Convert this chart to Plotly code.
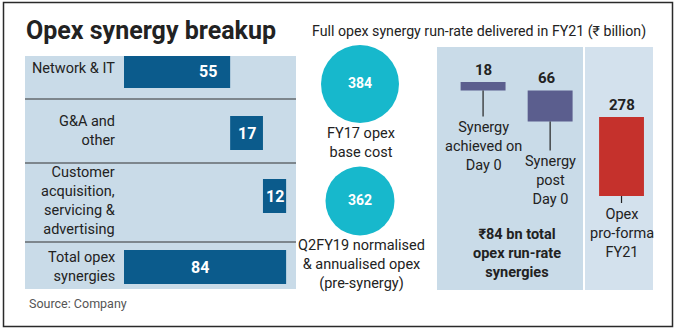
import plotly.graph_objects as go

# ---------------- data ----------------
breakup_labels = ["Network & IT", "G&A and<br>other",
                  "Customer<br>acquisition,<br>servicing &<br>advertising",
                  "Total opex<br>synergies"]
breakup_values = [55, 17, 12, 84]
breakup_is_total = [False, False, False, True]

base_cost_values = [384, 362]
base_cost_labels = ["FY17 opex<br>base cost",
                    "Q2FY19 normalised<br>& annualised opex<br>(pre-synergy)"]

synergy_labels = ["Synergy<br>achieved on<br>Day 0", "Synergy<br>post<br>Day 0"]
synergy_values = [18, 66]
proforma_label = "Opex<br>pro-forma<br>FY21"
proforma_value = 278

title_text = "Opex synergy breakup"
subtitle_text = "Full opex synergy run-rate delivered in FY21 (₹ billion)"
source_text = "Source: Company"

# ---------------- layout helpers (pixels -> paper) ----------------
W, H = 676, 331
def px(x):
    return x / W
def py(y):
    return 1 - y / H

FONT = "Roboto, 'Noto Sans', sans-serif"
TXT = "#222222"
BAR_BLUE = "#0b5b8c"
SYN = "#5b5e8e"
RED = "#c5312c"
TEAL = "#17b8cc"
BG1 = "#c9dbe8"
BG2 = "#d3e1ed"

# left waterfall geometry (style)
ROW_Y = [71, 133, 196, 267]
LABEL_DY = [-3, -2, 5, 0]
ROW_SEP = [99, 163, 242]
LEFT_SCALE = 1.93  # px per unit
LABEL_FRAC = [0.79, 0.5, 0.5, 0.47]

bases = []
run = 0
for v, tot in zip(breakup_values, breakup_is_total):
    if tot:
        bases.append(0)
    else:
        bases.append(run)
        run += v

fig = go.Figure()

fig.add_trace(go.Bar(
    x=breakup_values, base=bases, y=ROW_Y, orientation="h", width=34,
    marker=dict(color=BAR_BLUE, line=dict(width=0)),
    xaxis="x", yaxis="y", hoverinfo="skip", showlegend=False))

# synergy waterfall (from 362 downwards)
start = base_cost_values[1]
syn_bases = []
level = start
for v in synergy_values:
    level -= v
    syn_bases.append(level)
S2 = 0.47  # px per unit
fig.add_trace(go.Bar(
    x=[0, 1], y=synergy_values, base=syn_bases, width=0.67,
    marker=dict(color=SYN, line=dict(width=0)),
    xaxis="x2", yaxis="y2", hoverinfo="skip", showlegend=False))

S3 = 79 / 278
fig.add_trace(go.Bar(
    x=[0], y=[proforma_value], width=0.66,
    marker=dict(color=RED, line=dict(width=0)),
    xaxis="x3", yaxis="y3", hoverinfo="skip", showlegend=False))

# circles
CIRCLE_Y = [84, 201]
CIRCLE_SIZE = [78, 69]
fig.add_trace(go.Scatter(
    x=[360, 360], y=CIRCLE_Y, mode="markers+text", opacity=1,
    marker=dict(size=CIRCLE_SIZE, color=TEAL, opacity=1, line=dict(width=0)),
    text=["<b>%d</b>" % v for v in base_cost_values], textposition="middle center",
    textfont=dict(family=FONT, size=14, color="white"),
    xaxis="x4", yaxis="y4", hoverinfo="skip", showlegend=False))

shapes = []
# backgrounds
shapes.append(dict(type="rect", xref="paper", yref="paper", x0=px(25), x1=px(296),
                   y0=py(289), y1=py(56), fillcolor=BG1, line=dict(width=0), layer="below"))
shapes.append(dict(type="rect", xref="paper", yref="paper", x0=px(437), x1=px(583),
                   y0=py(290), y1=py(47), fillcolor=BG1, line=dict(width=0), layer="below"))
shapes.append(dict(type="rect", xref="paper", yref="paper", x0=px(585), x1=px(653),
                   y0=py(290), y1=py(47), fillcolor=BG2, line=dict(width=0), layer="below"))
for yy in ROW_SEP:
    shapes.append(dict(type="line", xref="paper", yref="paper", x0=px(25), x1=px(296),
                       y0=py(yy), y1=py(yy), line=dict(color="#333333", width=1.2)))
# outer border
shapes.append(dict(type="rect", xref="paper", yref="paper", x0=px(3.5), x1=px(672.5),
                   y0=py(326.5), y1=py(2.5), line=dict(color="#2a2a2a", width=1.5)))

annotations = []
# title etc.
annotations.append(dict(text="<b>" + title_text + "</b>", xref="paper", yref="paper",
                        x=px(24), y=py(30), xanchor="left", yanchor="middle", showarrow=False,
                        font=dict(family=FONT, size=25, color=TXT)))
annotations.append(dict(text=subtitle_text, xref="paper", yref="paper",
                        x=px(479), y=py(31), xanchor="center", yanchor="middle", showarrow=False,
                        font=dict(family=FONT, size=14.2, color=TXT)))
annotations.append(dict(text=source_text, xref="paper", yref="paper",
                        x=px(27), y=py(303), xanchor="left", yanchor="middle", showarrow=False,
                        font=dict(family=FONT, size=12.5, color="#555555")))

# left labels and values
for lab, v, b, yy, dy, fr in zip(breakup_labels, breakup_values, bases, ROW_Y, LABEL_DY, LABEL_FRAC):
    annotations.append(dict(text=lab, xref="paper", yref="y", x=px(117), y=yy + dy,
                            xanchor="right", yanchor="middle", align="right", showarrow=False,
                            font=dict(family=FONT, size=14.5, color=TXT)))
    annotations.append(dict(text="<b>%d</b>" % v, xref="x", yref="y", x=b + v * fr, y=yy,
                            xanchor="center", yanchor="middle", showarrow=False,
                            font=dict(family=FONT, size=16, color="white")))

# circle labels
CIRCLE_LABEL_TOP = [123, 235]
for lab, top in zip(base_cost_labels, CIRCLE_LABEL_TOP):
    annotations.append(dict(text=lab, xref="paper", yref="paper", x=px(361), y=py(top),
                            xanchor="center", yanchor="top", align="center", showarrow=False,
                            font=dict(family=FONT, size=14.5, color=TXT)))

# synergy panel
LEADER_PX = [26, 29]
for i, (lab, v, b) in enumerate(zip(synergy_labels, synergy_values, syn_bases)):
    yend = b - LEADER_PX[i] / S2
    shapes.append(dict(type="line", xref="x2", yref="y2", x0=i, x1=i, y0=b, y1=yend,
                       line=dict(color="#222222", width=1.2)))
    annotations.append(dict(text=lab, xref="x2", yref="y2", x=i, y=yend,
                            xanchor="center", yanchor="top", align="center", showarrow=False,
                            yshift=-1, font=dict(family=FONT, size=14.5, color=TXT)))
    annotations.append(dict(text="<b>%d</b>" % v, xref="x2", yref="y2", x=i - 0.05 * i, y=b + v,
                            xanchor="center", yanchor="bottom", showarrow=False, yshift=1,
                            font=dict(family=FONT, size=15, color=TXT)))
annotations.append(dict(text="<b>₹%d bn total<br>opex run-rate<br>synergies</b>" % sum(synergy_values),
                        xref="paper", yref="paper", x=px(517), y=py(224),
                        xanchor="center", yanchor="top", align="center", showarrow=False,
                        font=dict(family=FONT, size=14.5, color=TXT)))

# proforma panel
LEAD3 = 7 / S3
shapes.append(dict(type="line", xref="x3", yref="y3", x0=0, x1=0, y0=0, y1=-LEAD3,
                   line=dict(color="#222222", width=1.2)))
annotations.append(dict(text=proforma_label, xref="x3", yref="y3", x=0, y=-LEAD3,
                        xanchor="center", yanchor="top", align="center", showarrow=False,
                        yshift=-1, font=dict(family=FONT, size=14.5, color=TXT)))
annotations.append(dict(text="<b>%d</b>" % proforma_value, xref="x3", yref="y3", x=0,
                        y=proforma_value, xanchor="center", yanchor="bottom", showarrow=False,
                        yshift=1, font=dict(family=FONT, size=15, color=TXT)))

ax_off = dict(visible=False, fixedrange=True, showgrid=False, zeroline=False)
y2_top = start + (82 - 45) / S2
y3_top = (196 - 45) / S3
fig.update_layout(
    width=W, height=H, margin=dict(l=0, r=0, t=0, b=0),
    paper_bgcolor="white", plot_bgcolor="rgba(0,0,0,0)",
    barmode="overlay", showlegend=False,
    xaxis=dict(domain=[px(124), px(296)], range=[0, (296 - 124) / LEFT_SCALE], anchor="y", **ax_off),
    yaxis=dict(domain=[py(289), py(56)], range=[289, 56], anchor="x", **ax_off),
    xaxis2=dict(domain=[px(437), px(583)], range=[-0.687, 1.49], anchor="y2", **ax_off),
    yaxis2=dict(domain=[py(290), py(45)], range=[y2_top - 245 / S2, y2_top], anchor="x2", **ax_off),
    xaxis3=dict(domain=[px(585), px(653)], range=[-0.537, 0.463], anchor="y3", **ax_off),
    yaxis3=dict(domain=[py(290), py(45)], range=[y3_top - 245 / S3, y3_top], anchor="x3", **ax_off),
    xaxis4=dict(domain=[px(300), px(420)], range=[300, 420], anchor="y4", **ax_off),
    yaxis4=dict(domain=[py(300), py(40)], range=[300, 40], anchor="x4", **ax_off),
    shapes=shapes, annotations=annotations,
)

fig.write_html("out.html")
